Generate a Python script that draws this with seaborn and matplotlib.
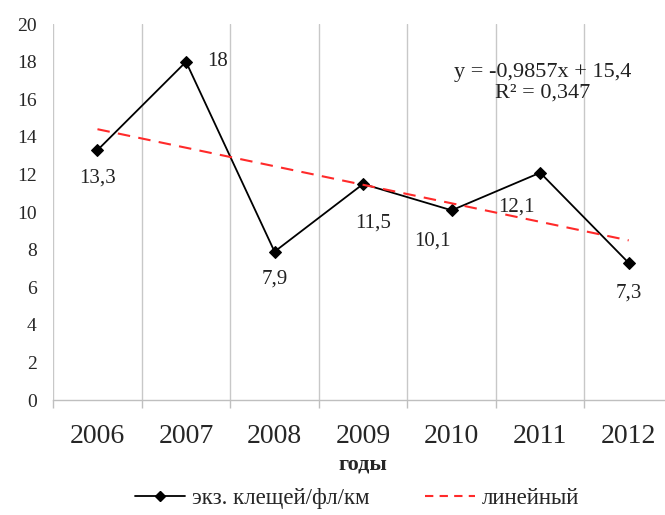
import numpy as np
import pandas as pd
import matplotlib
matplotlib.use("Agg")
import matplotlib.pyplot as plt
import seaborn as sns
from matplotlib.lines import Line2D

years = ["2006", "2007", "2008", "2009", "2010", "2011", "2012"]
values = [13.3, 18.0, 7.9, 11.5, 10.1, 12.1, 7.3]
value_labels = ["13,3", "18", "7,9", "11,5", "10,1", "12,1", "7,3"]
yticks = [0, 2, 4, 6, 8, 10, 12, 14, 16, 18, 20]
series_name = "экз. клещей/фл/км"
trend_name = "линейный"
xlabel = "годы"
equation = "y = -0,9857x + 15,4\nR² = 0,347"

sns.set_theme(style="white")
plt.rcParams['font.family'] = ['Liberation Serif', 'DejaVu Serif']

fig = plt.figure(figsize=(6.65, 5.15), dpi=100)
ax = fig.add_axes([0.08, 0.223, 0.932, 0.730])

df = pd.DataFrame({"x": np.arange(len(years)), "y": values})
sns.lineplot(data=df, x="x", y="y", ax=ax, color="black", linewidth=1.3,
             marker="D", markersize=6, markeredgecolor="black")

# linear trend (least squares on 1..7)
xi = np.arange(1, len(values) + 1)
k, b = np.polyfit(xi, values, 1)
trend = k * xi + b
ax.plot(df["x"], trend, color="#ff2a2a", linestyle=(0, (6, 4)), linewidth=1.5)

ax.set_xlim(-0.5, 6.5)
ax.set_ylim(0, 20)
ax.set_yticks(yticks)
ax.set_yticklabels([str(v) for v in yticks], fontsize=14)
ax.set_xticks(range(len(years)))
ax.set_xticklabels(years, fontsize=20)
ax.set_xticks(np.arange(-0.5, 7.0, 1.0), minor=True)
ax.tick_params(axis="x", which="major", length=0, pad=17)
ax.tick_params(axis="x", which="minor", length=6, color="#bfbfbf", width=1, bottom=True)
ax.tick_params(axis="y", length=0, pad=12)
ax.grid(False)
ax.xaxis.grid(True, which="minor", color="#c8c8c8", linewidth=1)
for s in ["top", "right", "left"]:
    ax.spines[s].set_visible(False)
ax.spines["bottom"].set_color("#bfbfbf")
ax.spines["bottom"].set_linewidth(1)
ax.set_ylabel("")
ax.set_xlabel(xlabel, fontsize=16, fontweight="bold", labelpad=4)

offsets = [(0, -20, "center"), (15, 0, "left"), (0, -20, "center"), (7, -28, "center"),
           (-14, -22, "center"), (-17, -25, "center"), (0, -22, "center")]
for i, (v, lab) in enumerate(zip(values, value_labels)):
    dx, dy, ha = offsets[i]
    ax.annotate(lab, (i, v), xytext=(dx, dy), textcoords="offset points",
                ha=ha, va="center", fontsize=15, color="#222222")

ax.text(5.03, 16.9, equation, ha="center", va="center", fontsize=16,
        color="#222222", linespacing=1.1)

handles = [Line2D([0], [0], color="black", linewidth=1.3, marker="D", markersize=5),
           Line2D([0], [0], color="#ff2a2a", linestyle=(0, (4, 3)), linewidth=1.5)]
fig.legend(handles, [series_name, trend_name], loc="center", bbox_to_anchor=(0.537, 0.033),
           ncol=2, frameon=False, fontsize=16.5, handlelength=2.2, columnspacing=2.4,
           handletextpad=0.3)

fig.savefig("out.png", dpi=100, facecolor="white")
